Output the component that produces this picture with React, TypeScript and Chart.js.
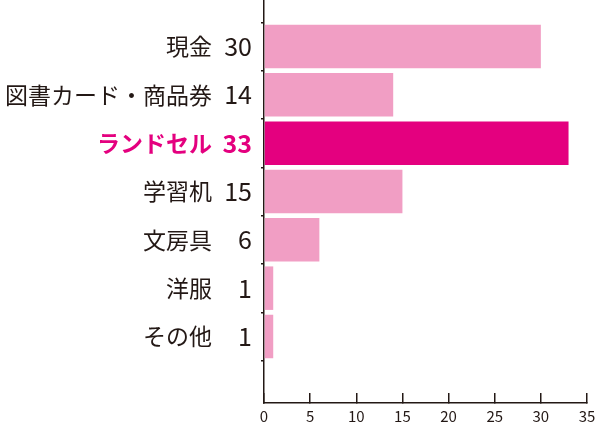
import React, { useEffect, useRef } from "react";
import { Chart, registerables } from "chart.js";

Chart.register(...registerables);

const categories = ["現金", "図書カード・商品券", "ランドセル", "学習机", "文房具", "洋服", "その他"];
const counts = [30, 14, 33, 15, 6, 1, 1];
const highlight = "ランドセル";
const xTicks = [0, 5, 10, 15, 20, 25, 30, 35];

const DARK = "#231815";
const PINK = "#F19EC4";
const MAGENTA = "#E4007F";
const FONT = "'Noto Sans CJK JP', 'Noto Sans', sans-serif";

export default function App() {
  const ref = useRef<HTMLCanvasElement | null>(null);

  useEffect(() => {
    document.body.style.margin = "0";
    const canvas = ref.current;
    if (!canvas) return;
    const hiIndex = categories.indexOf(highlight);
    const yMin = -0.962;
    const yMax = 7.376;
    const setTicks = (scale: any) => {
      scale.ticks = categories.map((_, i) => ({ value: i }));
    };
    const isHi = (ctx: any) => !!(ctx.tick && ctx.tick.value === hiIndex);
    const chart = new Chart(canvas, {
      type: "bar",
      data: {
        datasets: [
          {
            data: counts.map((v, i) => ({ x: v, y: i })) as any,
            backgroundColor: categories.map((c) => (c === highlight ? MAGENTA : PINK)),
            borderWidth: 0,
            categoryPercentage: 0.9,
            barPercentage: 1,
            yAxisID: "y",
            xAxisID: "x",
          },
        ],
      },
      options: {
        indexAxis: "y",
        responsive: false,
        animation: false,
        layout: { padding: 0 },
        plugins: { legend: { display: false }, tooltip: { enabled: false } },
        scales: {
          x: {
            type: "linear",
            position: "bottom",
            min: 0,
            max: 35,
            offset: false,
            afterBuildTicks: (scale: any) => {
              scale.ticks = xTicks.map((v) => ({ value: v }));
            },
            afterFit: (scale: any) => {
              scale.height = 34;
              scale.paddingLeft = 0;
              scale.paddingRight = 13;
            },
            grid: {
              drawOnChartArea: false,
              drawTicks: true,
              tickLength: -10,
              color: DARK,
              lineWidth: 1.5,
            },
            border: { display: true, color: DARK, width: 1.5 },
            ticks: {
              padding: 14,
              color: DARK,
              font: { family: FONT, size: 15 },
              maxRotation: 0,
              autoSkip: false,
            },
          },
          y: {
            type: "linear",
            position: "left",
            weight: 0,
            reverse: true,
            offset: false,
            min: yMin,
            max: yMax,
            afterBuildTicks: setTicks,
            afterFit: (scale: any) => {
              scale.width = 51;
              scale.paddingTop = 0;
              scale.paddingBottom = 0;
            },
            grid: {
              offset: true,
              drawOnChartArea: false,
              drawTicks: true,
              tickLength: 3,
              color: DARK,
              lineWidth: 1.5,
            },
            border: { display: true, color: DARK, width: 1.5 },
            ticks: {
              autoSkip: false,
              padding: 9,
              font: (ctx: any) => ({ family: FONT, size: 25, weight: isHi(ctx) ? "bold" : "normal" }),
              color: (ctx: any) => (isHi(ctx) ? MAGENTA : DARK),
              callback: (value: any) => String(counts[Number(value)] ?? ""),
            },
          },
          yName: {
            type: "linear",
            position: "left",
            weight: 1,
            reverse: true,
            offset: false,
            min: yMin,
            max: yMax,
            afterBuildTicks: setTicks,
            afterFit: (scale: any) => {
              scale.width = 213;
              scale.paddingTop = 0;
              scale.paddingBottom = 0;
            },
            grid: { display: false, drawTicks: false },
            border: { display: false },
            ticks: {
              autoSkip: false,
              padding: 1,
              font: (ctx: any) => ({ family: FONT, size: 23, weight: isHi(ctx) ? "bold" : "normal" }),
              color: (ctx: any) => (isHi(ctx) ? MAGENTA : DARK),
              callback: (value: any) => categories[Number(value)] ?? "",
            },
          },
        },
      },
    } as any);
    return () => chart.destroy();
  }, []);

  return (
    <div style={{ width: 600, height: 437 }}>
      <canvas ref={ref} width={600} height={437} />
    </div>
  );
}
